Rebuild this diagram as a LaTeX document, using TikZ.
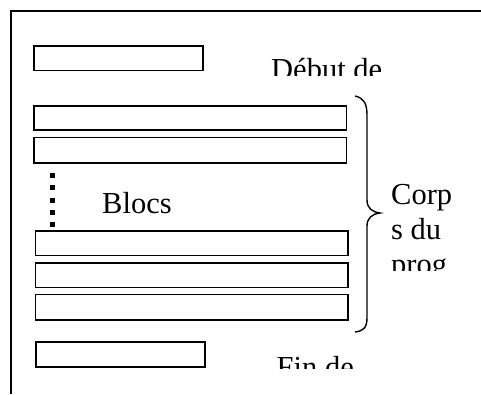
\documentclass[tikz,border=0pt]{standalone}
\usepackage{fontspec}
\setmainfont{Liberation Serif}
\begin{document}
\begin{tikzpicture}[x=1bp,y=-1bp,
  blk/.style={draw=black,line width=1.3bp},
  frameline/.style={draw=black,line width=1.4bp},
  lbl/.style={inner sep=0pt,anchor=base west,font=\fontsize{30.5bp}{35bp}\selectfont},
  dotsq/.style={fill=black}]
\useasboundingbox (0,0) rectangle (481,394);
% frame (top and left edges only)
\draw[frameline] (11,394) -- (11,11) -- (481,11);
% boxes
\draw[blk] (34,46) rectangle (203,70.5);
\draw[blk] (34,106) rectangle (346.5,130);
\draw[blk] (34,137.5) rectangle (346.5,163);
\draw[blk] (35.5,231) rectangle (348,255.5);
\draw[blk] (35.5,263) rectangle (348,287.5);
\draw[blk] (35.5,294.5) rectangle (348,320);
\draw[blk] (36,342) rectangle (205,367);
% dotted vertical line (square dots)
\foreach \yy in {173,185.3,197.6,210,222.3}
  \fill[dotsq] (49.5,\yy) rectangle (55,\yy+5);
% Blocs label
\node[lbl] (blocs) at (102,213) {Blocs};
% brace
\draw[line width=1.4bp] (355,96) .. controls (364,98) and (367,104) .. (367,115)
  -- (367,200) .. controls (367,208) and (372,212) .. (380,213)
  .. controls (372,214) and (367,218) .. (367,226)
  -- (367,318) .. controls (367,328) and (363,331) .. (355,332);
% Corps du prog (clipped)
\node[lbl] (corp) at (391,204) {Corp};
\node[lbl] (sdu) at (391,239) {s du};
\begin{scope}
  \clip (380,250) rectangle (481,270);
  \node[lbl] (prog) at (391,274) {prog};
\end{scope}
% Debut de (clipped)
\begin{scope}
  \clip (260,40) rectangle (420,75.5);
  \node[lbl] (debut) at (271,79) {Début de};
\end{scope}
% Fin de (clipped)
\begin{scope}
  \clip (260,340) rectangle (420,368);
  \node[lbl] (fin) at (276.5,377) {Fin de};
\end{scope}
\end{tikzpicture}
\end{document}
